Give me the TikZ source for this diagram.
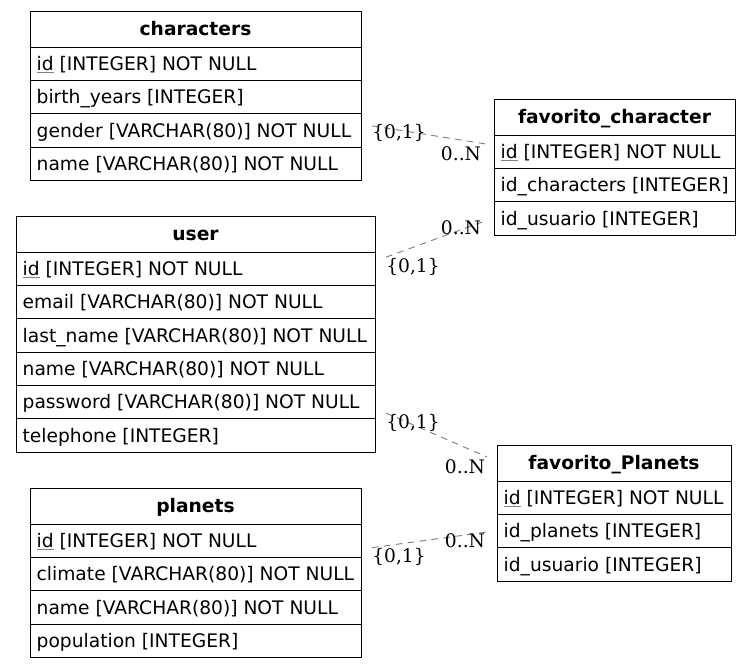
\documentclass[tikz,border=0pt]{standalone}
\usepackage{fontspec}
\setmainfont{DejaVu Sans}
\newfontfamily\cardfont{DejaVu Serif}
\usetikzlibrary{positioning}

\newcommand{\pkey}[1]{{\color{gray}\underline{\color{black}#1}}}

\tikzset{
  tblhead/.style={draw, line width=0.75pt, font=\bfseries\fontsize{14}{16}\selectfont,
    minimum height=27pt, inner sep=0pt, outer sep=0pt, text height=10.2pt,
    text depth=0pt, anchor=north west},
  tblrow/.style={draw, line width=0.75pt, font=\fontsize{14}{16}\selectfont,
    minimum height=25pt, inner ysep=0pt, inner xsep=5pt, outer sep=0pt,
    text height=10.2pt, text depth=0pt},
  rel/.style={gray, dash pattern=on 5pt off 4pt, line width=0.7pt},
  card/.style={font=\cardfont\fontsize{14}{16}\selectfont, inner sep=0pt}
}

% #1 name, #2 top left corner, #3 width (px), #4 title, #5 fields
\newcommand{\ertable}[5]{
  \pgfmathsetmacro\tblw{#3*0.75}
  \pgfmathsetmacro\tblt{#3*0.75-10}
  \node[tblhead, minimum width=\tblw pt, alias=#1-0] (#1) at #2 {#4};
  \foreach \f [count=\i] in {#5} {
    \pgfmathtruncatemacro\j{\i-1}
    \node[tblrow, below=0pt of #1-\j] (#1-\i) {\makebox[\tblt pt][l]{\f}};
  }
}

\begin{document}
\begin{tikzpicture}[x=0.75pt,y=-0.75pt]
\useasboundingbox (0,0) rectangle (751,669);

\ertable{chr}{(30,11)}{331}{characters}{\pkey{id} [INTEGER] NOT NULL,
  birth\_years [INTEGER], gender [VARCHAR(80)] NOT NULL, name [VARCHAR(80)] NOT NULL}
\ertable{usr}{(16,216)}{359}{user}{\pkey{id} [INTEGER] NOT NULL,
  email [VARCHAR(80)] NOT NULL, last\_name [VARCHAR(80)] NOT NULL,
  name [VARCHAR(80)] NOT NULL, password [VARCHAR(80)] NOT NULL, telephone [INTEGER]}
\ertable{pla}{(30,488)}{331}{planets}{\pkey{id} [INTEGER] NOT NULL,
  climate [VARCHAR(80)] NOT NULL, name [VARCHAR(80)] NOT NULL, population [INTEGER]}
\ertable{fch}{(494,99)}{241}{favorito\_character}{\pkey{id} [INTEGER] NOT NULL,
  id\_characters [INTEGER], id\_usuario [INTEGER]}
\ertable{fpl}{(497,445)}{234}{favorito\_Planets}{\pkey{id} [INTEGER] NOT NULL,
  id\_planets [INTEGER], id\_usuario [INTEGER]}

% relations
\coordinate (r1a) at ([shift={(11,-4.5)}]chr-3.east);
\coordinate (r1b) at ([shift={(-7,-7.5)}]fch-1.west);
\draw[rel] (r1a) -- (r1b);
\node[card] (r1ca) at ([shift={(27,7)}]r1a) {\{0,1\}};
\node[card] (r1cb) at ([shift={(-26,10)}]r1b) {0..N};

\coordinate (r2a) at ([shift={(11,-11.5)}]usr-1.east);
\coordinate (r2b) at ([shift={(-10,3)}]fch-3.west);
\draw[rel] (r2a) -- (r2b);
\node[card] (r2ca) at ([shift={(27,10)}]r2a) {\{0,1\}};
\node[card] (r2cb) at ([shift={(-23,6)}]r2b) {0..N};

\coordinate (r3a) at ([shift={(11,11)}]usr-5.east);
\coordinate (r3b) at ([shift={(-10,-6)}]fpl.west);
\draw[rel] (r3a) -- (r3b);
\node[card] (r3ca) at ([shift={(27,10)}]r3a) {\{0,1\}};
\node[card] (r3cb) at ([shift={(-22,10)}]r3b) {0..N};

\coordinate (r4a) at ([shift={(11,7)}]pla-1.east);
\coordinate (r4b) at ([shift={(-10,1)}]fpl-2.west);
\draw[rel] (r4a) -- (r4b);
\node[card] (r4ca) at ([shift={(27,9)}]r4a) {\{0,1\}};
\node[card] (r4cb) at ([shift={(-22,9)}]r4b) {0..N};
\end{tikzpicture}
\end{document}
